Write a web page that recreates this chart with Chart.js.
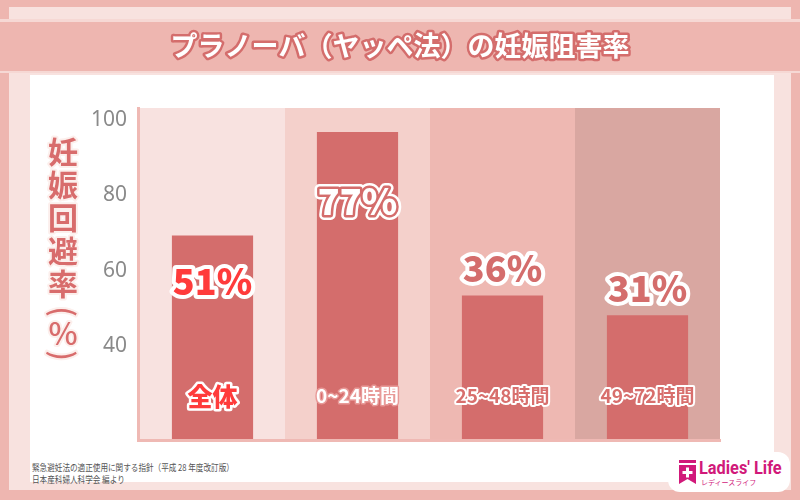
<!DOCTYPE html>
<html><head><meta charset="utf-8">
<script src="https://cdn.jsdelivr.net/npm/chart.js@4/dist/chart.umd.min.js"></script>
<style>
html,body{margin:0;padding:0;width:800px;height:500px;overflow:hidden;background:#eeb6b0;}
#frame{position:absolute;left:9px;top:7px;width:782px;height:483px;background:#f8e2df;}
#panel{position:absolute;left:30px;top:75px;width:744px;height:407px;background:#fff;}
#band{position:absolute;left:0;top:19px;width:800px;height:54px;background:#eeb6b0;border-top:3px solid #f6d8d4;border-bottom:2px solid #f6d8d4;box-sizing:border-box;}
#c{position:absolute;left:0;top:0;}
#src{position:absolute;left:32px;top:462px;font-family:"Noto Sans CJK JP";font-size:9.5px;color:#555;line-height:11.5px;transform:scaleX(0.8);transform-origin:left top;white-space:nowrap;}
#logo{position:absolute;left:668px;top:452px;width:122px;height:40px;background:#fff;border-radius:12px;}
#logoTxt{position:absolute;left:699px;top:456px;font-family:"Liberation Sans Narrow","Roboto";font-weight:bold;font-size:19px;color:#d1197a;white-space:nowrap;transform:scaleX(0.86);transform-origin:left top;}
#logoSub{position:absolute;left:701px;top:477px;font-family:"Noto Sans CJK JP";font-size:7px;color:#d1197a;white-space:nowrap;}
#icon{position:absolute;left:679px;top:460px;}
</style></head>
<body>
<div id="frame"></div>
<div id="panel"></div>
<div id="band"></div>
<div id="src">緊急避妊法の適正使用に関する指針（平成 28 年度改訂版）<br>日本産科婦人科学会 編より</div>
<div id="logo"></div>
<svg id="icon" width="17" height="24" viewBox="0 0 17 24"><rect x="0" y="0" width="17" height="3" fill="#d1197a"/><path d="M0 5 H17 V24 L8.5 19 L0 24 Z" fill="#d1197a"/><rect x="7" y="7.5" width="3" height="10" fill="#fff"/><rect x="3.5" y="11" width="10" height="3" fill="#fff"/></svg>
<div id="logoTxt">Ladies' Life</div>
<div id="logoSub">レディースライフ</div>
<canvas id="c" width="800" height="500"></canvas>
<script>
const chartTitle = 'プラノーバ（ヤッペ法）の妊娠阻害率';
const yAxisTitle = '妊娠回避率(%)';
const categories = ['全体', '0~24時間', '25~48時間', '49~72時間'];
const rates = [51, 77, 36, 31];
const yTicks = [40, 60, 80, 100];

// styles (not data)
const bandColors = ['#f8e2e0', '#f4d0cb', '#eeb8b2', '#d9a7a1'];
const valueStyles = [
  {fill:'#ff3b3b', strokes:[['#ffffff',8]]},
  {fill:'#ffffff', strokes:[['#ffffff',10],['#d46d6c',5]]},
  {fill:'#d46d6c', strokes:[['#ffffff',8]]},
  {fill:'#d46d6c', strokes:[['#ffffff',8]]}
];
const catStyles = [
  {fill:'#ff3b3b', strokes:[['#ffffff',5]], font:'900 25px "Noto Sans CJK JP"'},
  {fill:'#ffffff', strokes:[['#e89a98',3]], font:'bold 19px "Noto Sans CJK JP"'},
  {fill:'#d86f6d', strokes:[['#ffffff',4]], font:'bold 19px "Noto Sans CJK JP"'},
  {fill:'#d86f6d', strokes:[['#ffffff',4]], font:'bold 19px "Noto Sans CJK JP"'}
];

function outlined(ctx, text, x, y, font, fill, strokes){
  ctx.save();
  ctx.font = font; ctx.textAlign = 'center'; ctx.textBaseline = 'middle'; ctx.lineJoin = 'round';
  strokes.forEach(([c,w]) => { ctx.strokeStyle = c; ctx.lineWidth = w; ctx.strokeText(text, x, y); });
  ctx.fillStyle = fill; ctx.fillText(text, x, y);
  ctx.restore();
}

const decor = {
  id: 'decor',
  beforeDatasetsDraw(chart){
    const {ctx, chartArea:a, scales:{x}} = chart;
    const w = (a.right - a.left) / categories.length;
    ctx.save();
    categories.forEach((c, i) => {
      const cx = x.getPixelForValue(i);
      ctx.fillStyle = bandColors[i];
      ctx.fillRect(cx - w/2, a.top, w, a.bottom - a.top);
    });
    ctx.restore();
  },
  afterDatasetsDraw(chart){
    const {ctx, chartArea:a} = chart;
    ctx.save();
    ctx.fillStyle = '#efb9b4';
    ctx.fillRect(a.left - 3, a.top - 1, 3, a.bottom - a.top + 4);
    ctx.fillRect(a.left - 3, a.bottom, a.right - a.left + 4, 3);
    ctx.restore();
    const meta = chart.getDatasetMeta(0);
    meta.data.forEach((bar, i) => {
      const top = bar.y, bottom = bar.base;
      const st = valueStyles[i];
      const y = rates[i] >= 50 ? top + 0.225 * (bottom - top) : top - 27;
      outlined(ctx, rates[i] + '%', bar.x, y, '900 36px "Noto Sans CJK JP"', st.fill, st.strokes);
      const cs = catStyles[i];
      outlined(ctx, categories[i], bar.x, a.bottom - 43, cs.font, cs.fill, cs.strokes);
    });
  },
  afterDraw(chart){
    const ctx = chart.ctx;
    outlined(ctx, chartTitle, 400, 46, 'bold 27px "Noto Sans CJK JP"', '#ffffff', [['#d46d6c',5]]);
    // vertical axis title
    let y = 152 - 16.5, prevHalf = 0;
    ctx.save();
    for (const ch of yAxisTitle){
      const isParen = ch === '(' || ch === ')';
      const isPct = ch === '%';
      const half = (isParen || isPct) ? 11 : 16.5;
      y += (prevHalf ? prevHalf : 16.5) + half - (prevHalf ? 0 : half);
      prevHalf = half;
      ctx.save();
      ctx.translate(63, y);
      ctx.textAlign = 'center'; ctx.textBaseline = 'middle'; ctx.lineJoin = 'round';
      if (isParen){ ctx.rotate(Math.PI/2); ctx.font = '500 30px "Noto Sans CJK JP"'; }
      else if (isPct){ ctx.font = '500 31px "Noto Sans CJK JP"'; }
      else { ctx.font = 'bold 30px "Noto Sans CJK JP"'; }
      ctx.strokeStyle = '#fcefec'; ctx.lineWidth = 4; ctx.strokeText(ch, 0, 0);
      ctx.fillStyle = '#d86c6c'; ctx.fillText(ch, 0, 0);
      ctx.restore();
    }
    ctx.restore();
  }
};

new Chart(document.getElementById('c'), {
  type: 'bar',
  data: {
    labels: categories,
    datasets: [{
      data: rates,
      yAxisID: 'yBar',
      backgroundColor: '#d46d6c',
      borderWidth: 0,
      barPercentage: 0.56,
      categoryPercentage: 1.0
    }]
  },
  options: {
    responsive: false,
    animation: false,
    devicePixelRatio: 1,
    layout: {padding: {top: 108, bottom: 61, left: 0, right: 80}},
    plugins: {legend: {display: false}, tooltip: {enabled: false}, title: {display: false}},
    scales: {
      x: {display: false},
      y: {
        position: 'left',
        min: 15.3, max: 103.2,
        afterBuildTicks(s){ s.ticks = yTicks.map(v => ({value: v})); },
        afterFit(s){ s.width = 140; },
        grid: {display: false, drawTicks: false},
        border: {display: false},
        ticks: {color: '#8a8a8a', font: {family: '"Noto Sans", sans-serif', size: 21}, padding: 13}
      },
      yBar: {axis: 'y', display: false, min: 0, max: 83}
    }
  },
  plugins: [decor]
});
</script>
</body></html>
